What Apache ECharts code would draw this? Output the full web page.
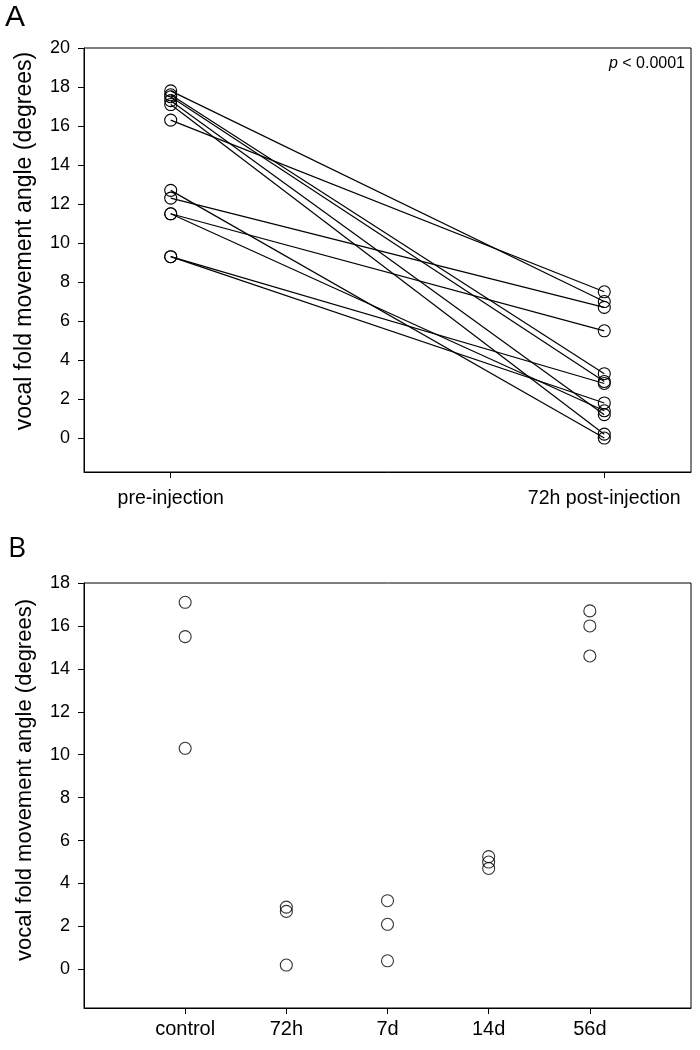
<!DOCTYPE html>
<html><head><meta charset="utf-8">
<script src="https://cdn.jsdelivr.net/npm/echarts@6/dist/echarts.min.js"></script>
<style>html,body{margin:0;padding:0;background:#fff}#c{width:700px;height:1050px}</style>
</head><body><div id="c"></div>
<script>
// Panel A: paired values (same index = same subject)
const pairedLabels = ['pre-injection', '72h post-injection'];
const preInjection  = [17.8, 17.6, 17.5, 17.3, 17.1, 16.3, 12.7, 12.3, 11.5, 11.5, 9.3, 9.3];
const postInjection = [7.0, 3.3, 2.9, 1.2, 0.2, 7.5, 0.0, 6.7, 5.5, 1.4, 2.8, 1.8];
const yTicksA = [0, 2, 4, 6, 8, 10, 12, 14, 16, 18, 20];

// Panel B: groups
const groupLabels = ['control', '72h', '7d', '14d', '56d'];
const controlVals = [17.1, 15.5, 10.3];
const h72Vals = [2.9, 2.7, 0.2];
const d7Vals = [3.2, 2.1, 0.4];
const d14Vals = [5.25, 5.0, 4.7];
const d56Vals = [16.7, 16.0, 14.6];
const groupValues = [controlVals, h72Vals, d7Vals, d14Vals, d56Vals];
const yTicksB = [0, 2, 4, 6, 8, 10, 12, 14, 16, 18];

const FONT = '"Liberation Sans", Arial, sans-serif';
const black = '#000';

function yAxisCfg(gi, min, max, ticks, fontSize) {
  return {
    type: 'value', gridIndex: gi, min: min, max: max,
    axisLine: { show: true, onZero: false, lineStyle: { color: black, width: 1 } },
    axisTick: { show: true, inside: false, length: 6, customValues: ticks, lineStyle: { color: black, width: 1 } },
    axisLabel: { customValues: ticks, margin: 14, color: black, fontSize: fontSize, fontFamily: FONT },
    splitLine: { show: false }
  };
}
function xAxisCfg(gi, min, max, labels, margin, fontSize) {
  const vals = labels.map((_, i) => i);
  return {
    type: 'value', gridIndex: gi, min: min, max: max,
    axisLine: { show: true, onZero: false, lineStyle: { color: black, width: 1 } },
    axisTick: { show: true, inside: false, length: 6, customValues: vals, lineStyle: { color: black, width: 1 } },
    axisLabel: { customValues: vals, margin: margin, color: black, fontSize: fontSize, fontFamily: FONT,
                 formatter: v => labels[Math.round(v)] },
    splitLine: { show: false }
  };
}

const series = [];
preInjection.forEach((pre, i) => {
  series.push({
    type: 'line', xAxisIndex: 0, yAxisIndex: 0,
    data: [[0, pre], [1, postInjection[i]]],
    symbol: 'circle', symbolSize: 12, showSymbol: true,
    lineStyle: { color: black, width: 1.2 },
    itemStyle: { color: 'rgba(0,0,0,0)', borderColor: black, borderWidth: 1.1 },
    emphasis: { disabled: true }, silent: true
  });
});
const scatterData = [];
groupValues.forEach((arr, gi) => arr.forEach(v => scatterData.push([gi, v])));
series.push({
  type: 'scatter', xAxisIndex: 1, yAxisIndex: 1, data: scatterData,
  symbol: 'circle', symbolSize: 12,
  itemStyle: { color: 'rgba(0,0,0,0)', borderColor: black, borderWidth: 1.1 },
  emphasis: { disabled: true }, silent: true
});

const chart = echarts.init(document.getElementById('c'), null, { renderer: 'canvas' });
chart.setOption({
  animation: false,
  backgroundColor: '#fff',
  grid: [
    { left: 84, top: 48, right: 9, height: 424, show: true, borderColor: black, borderWidth: 1, containLabel: false },
    { left: 84, top: 583, right: 9, height: 425, show: true, borderColor: black, borderWidth: 1, containLabel: false }
  ],
  xAxis: [
    xAxisCfg(0, -0.2, 1.2, pairedLabels, 17, 19.5),
    xAxisCfg(1, -1, 5, groupLabels, 11, 20)
  ],
  yAxis: [
    yAxisCfg(0, -1.74, 20, yTicksA, 18),
    yAxisCfg(1, -1.8, 18, yTicksB, 18)
  ],
  graphic: [
    { type: 'text', left: 5, top: 3, style: { text: 'A', font: '30px ' + FONT, fill: black } },
    { type: 'text', left: 8, top: 535, style: { text: 'B', font: '28px "Open Sans", sans-serif', fill: black } },
    { type: 'text', x: 25, y: 241, rotation: Math.PI / 2,
      style: { text: 'vocal fold movement angle (degrees)', font: '23px ' + FONT, fill: black,
               textAlign: 'center', textVerticalAlign: 'middle', align: 'center', verticalAlign: 'middle' } },
    { type: 'text', x: 25, y: 780, rotation: Math.PI / 2,
      style: { text: 'vocal fold movement angle (degrees)', font: '22px ' + FONT, fill: black,
               textAlign: 'center', textVerticalAlign: 'middle', align: 'center', verticalAlign: 'middle' } },
    { type: 'text', right: 15, top: 56,
      style: { text: '{i|p} < 0.0001', font: '16px ' + FONT, fill: black,
               rich: { i: { fontStyle: 'italic', fontSize: 16, fontFamily: FONT, fill: black } } } }
  ],
  series: series
});
</script>
</body></html>
